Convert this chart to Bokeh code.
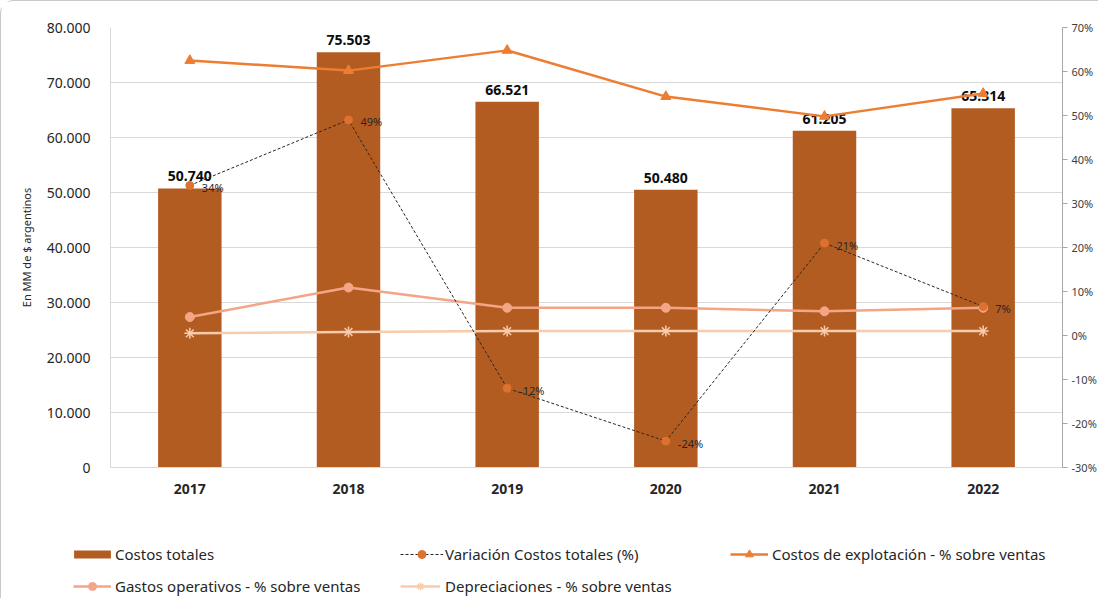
from bokeh.plotting import figure
from bokeh.models import (Range1d, LinearAxis, ColumnDataSource, FactorRange, Legend, LegendItem,
                          NumeralTickFormatter, CustomJSTickFormatter, FixedTicker)
from bokeh.core.properties import value
from bokeh.embed import file_html
from bokeh.resources import INLINE

# ---- data ----
years = ["2017", "2018", "2019", "2020", "2021", "2022"]
costos_totales = [50740, 75503, 66521, 50480, 61205, 65314]
variacion = [0.341, 0.49, -0.12, -0.24, 0.21, 0.066]
variacion_labels = ["34%", "49%", "-12%", "-24%", "21%", "7%"]
explotacion = [0.625, 0.602, 0.648, 0.543, 0.498, 0.55]
gastos_op = [0.042, 0.109, 0.063, 0.063, 0.055, 0.063]
depreciaciones = [0.005, 0.008, 0.010, 0.010, 0.010, 0.010]
left_ticks = [0, 10000, 20000, 30000, 40000, 50000, 60000, 70000, 80000]
right_ticks = [-0.3, -0.2, -0.1, 0.0, 0.1, 0.2, 0.3, 0.4, 0.5, 0.6, 0.7]
series_names = ["Costos totales", "Variación Costos totales (%)",
                "Costos de explotación - % sobre ventas",
                "Gastos operativos - % sobre ventas", "Depreciaciones - % sobre ventas"]

FONT = "Noto Sans"
C_BAR = "#B35C22"
C_VAR = "#DC7130"
C_EXP = "#ED7D31"
C_GAS = "#F3A585"
C_DEP = "#F8CBAD"

bar_labels = [f"{v:,}".replace(",", ".") for v in costos_totales]

src = ColumnDataSource(dict(
    years=years, costos=costos_totales, bar_labels=bar_labels,
    var=variacion, var_labels=variacion_labels,
    exp=explotacion, gas=gastos_op, dep=depreciaciones,
))

p = figure(width=1098, height=510, x_range=FactorRange(*years), y_range=Range1d(0, 80000),
           output_backend="svg", toolbar_location=None,
           min_border_left=109, min_border_right=37, min_border_top=26, min_border_bottom=44)
p.extra_y_ranges = {"pct": Range1d(-0.3, 0.7)}
p.outline_line_color = None
p.background_fill_color = "white"
p.border_fill_color = "white"
p.styles = {"border-top": "1px solid #c9c9c9", "border-left": "1px solid #c9c9c9",
            "border-top-left-radius": "14px"}

# grid
p.xgrid.grid_line_color = None
p.ygrid.grid_line_color = "#d9d9d9"
p.ygrid.grid_line_width = 1
p.ygrid.ticker = FixedTicker(ticks=left_ticks)

# left axis
ya = p.yaxis[0]
ya.ticker = FixedTicker(ticks=left_ticks)
ya.formatter = CustomJSTickFormatter(code="return tick.toFixed(0).replace(/\\B(?=(\\d{3})+(?!\\d))/g, '.');")
ya.major_tick_line_color = None
ya.minor_tick_line_color = None
ya.axis_line_color = "#d9d9d9"
ya.major_label_text_font = FONT
ya.major_label_text_font_size = "14px"
ya.major_label_text_color = "#262626"
ya.major_label_standoff = 14
ya.axis_label = "En MM de $ argentinos"
ya.axis_label_text_font = FONT
ya.axis_label_text_font_size = "11px"
ya.axis_label_text_font_style = "normal"
ya.axis_label_text_color = "#262626"
ya.axis_label_standoff = 10

# right axis
ra = LinearAxis(y_range_name="pct", ticker=FixedTicker(ticks=right_ticks),
                formatter=NumeralTickFormatter(format="0%"))
ra.axis_line_color = "#a6a6a6"
ra.major_tick_line_color = "#a6a6a6"
ra.major_tick_in = 0
ra.major_tick_out = 5
ra.minor_tick_line_color = None
ra.major_label_text_font = FONT
ra.major_label_text_font_size = "11px"
ra.major_label_text_color = "#404040"
ra.major_label_standoff = 4
p.add_layout(ra, "right")

# x axis
xa = p.xaxis[0]
xa.axis_line_color = "#d9d9d9"
xa.major_tick_line_color = None
xa.major_tick_out = 0
xa.major_tick_in = 0
xa.minor_tick_line_color = None
xa.major_label_text_font = FONT
xa.major_label_text_font_size = "14px"
xa.major_label_text_font_style = "bold"
xa.major_label_text_color = "#262626"
xa.major_label_standoff = 16

# bars
p.vbar(x="years", top="costos", width=0.4, source=src, fill_color=C_BAR, line_color=None)
p.text(x="years", y="costos", text="bar_labels", source=src, text_align="center",
       text_baseline="bottom", y_offset=-7, text_font=value(FONT), text_font_size="14px",
       text_font_style="bold", text_color="#0d0d0d")

# lines
line_specs = [
    ("gas", C_GAS, 2.5, None, "circle", 9),
    ("dep", C_DEP, 2.5, None, "asterisk", 11),
    ("exp", C_EXP, 2.5, None, "triangle", 10),
    ("var", "#262626", 1, "3 2", "circle", 8),
]
marker_color = {"gas": C_GAS, "dep": C_DEP, "exp": C_EXP, "var": C_VAR}
for col, lc, lw, dash, mk, sz in line_specs:
    kw = dict(line_dash=dash) if dash else {}
    p.line(x="years", y=col, source=src, y_range_name="pct", line_color=lc, line_width=lw, **kw)
    mc = marker_color[col]
    if mk == "asterisk":
        p.scatter(x="years", y=col, source=src, y_range_name="pct", marker=mk, size=sz,
                  line_color=mc, line_width=1.5)
    else:
        p.scatter(x="years", y=col, source=src, y_range_name="pct", marker=mk, size=sz,
                  fill_color=mc, line_color=mc)

p.text(x="years", y="var", text="var_labels", source=src, y_range_name="pct", text_align="left",
       text_baseline="middle", x_offset=12, y_offset=2, text_font=value(FONT),
       text_font_size="11px", text_color="#262626")

# ---- legend strip (separate root; placeholder renderers hold only NaN so draw nothing) ----
lf = figure(width=1098, height=88, x_range=Range1d(0, 1), y_range=Range1d(0, 1),
            output_backend="svg", toolbar_location=None,
            x_axis_location=None, y_axis_location=None,
            min_border_left=0, min_border_right=0, min_border_top=0, min_border_bottom=0)
lf.grid.visible = False
lf.outline_line_color = None
lf.border_fill_color = "white"
lf.background_fill_color = "white"
lf.styles = {"border-left": "1px solid #c9c9c9"}

nan = float("nan")
ph = ColumnDataSource(dict(x=[nan], y=[nan]))
g_bar = lf.rect(x="x", y="y", width=1, height=1, source=ph, fill_color=C_BAR, line_color=None)
g_var_l = lf.line(x="x", y="y", source=ph, line_color="#262626", line_width=1, line_dash="3 2")
g_var_m = lf.scatter(x="x", y="y", source=ph, marker="circle", size=8, fill_color=C_VAR, line_color=C_VAR)
g_exp_l = lf.line(x="x", y="y", source=ph, line_color=C_EXP, line_width=2.5)
g_exp_m = lf.scatter(x="x", y="y", source=ph, marker="triangle", size=10, fill_color=C_EXP, line_color=C_EXP)
g_gas_l = lf.line(x="x", y="y", source=ph, line_color=C_GAS, line_width=2.5)
g_gas_m = lf.scatter(x="x", y="y", source=ph, marker="circle", size=9, fill_color=C_GAS, line_color=C_GAS)
g_dep_l = lf.line(x="x", y="y", source=ph, line_color=C_DEP, line_width=2.5)
g_dep_m = lf.scatter(x="x", y="y", source=ph, marker="asterisk", size=11, line_color=C_DEP, line_width=1.5)

def add_legend(label, rends, loc, gw, gh, lh, standoff):
    leg = Legend(items=[LegendItem(label=label, renderers=rends)], location=loc,
                 orientation="horizontal", glyph_width=gw, glyph_height=gh,
                 label_standoff=standoff, label_height=lh, label_width=10,
                 padding=0, margin=0, spacing=0, border_line_color=None,
                 background_fill_alpha=0, label_text_font=FONT, label_text_font_size="15px",
                 label_text_color="#262626")
    lf.add_layout(leg, "center")

add_legend(series_names[0], [g_bar], (68, 34), 46, 10, 20, 0)
add_legend(series_names[1], [g_var_l, g_var_m], (399, 34), 43, 20, 20, 2)
add_legend(series_names[2], [g_exp_l, g_exp_m], (729, 34), 38, 20, 20, 4)
add_legend(series_names[3], [g_gas_l, g_gas_m], (72, 2), 38, 20, 20, 4)
add_legend(series_names[4], [g_dep_l, g_dep_m], (399, 2), 40, 20, 20, 5)

open("out.html", "w").write(file_html([p, lf], INLINE))
